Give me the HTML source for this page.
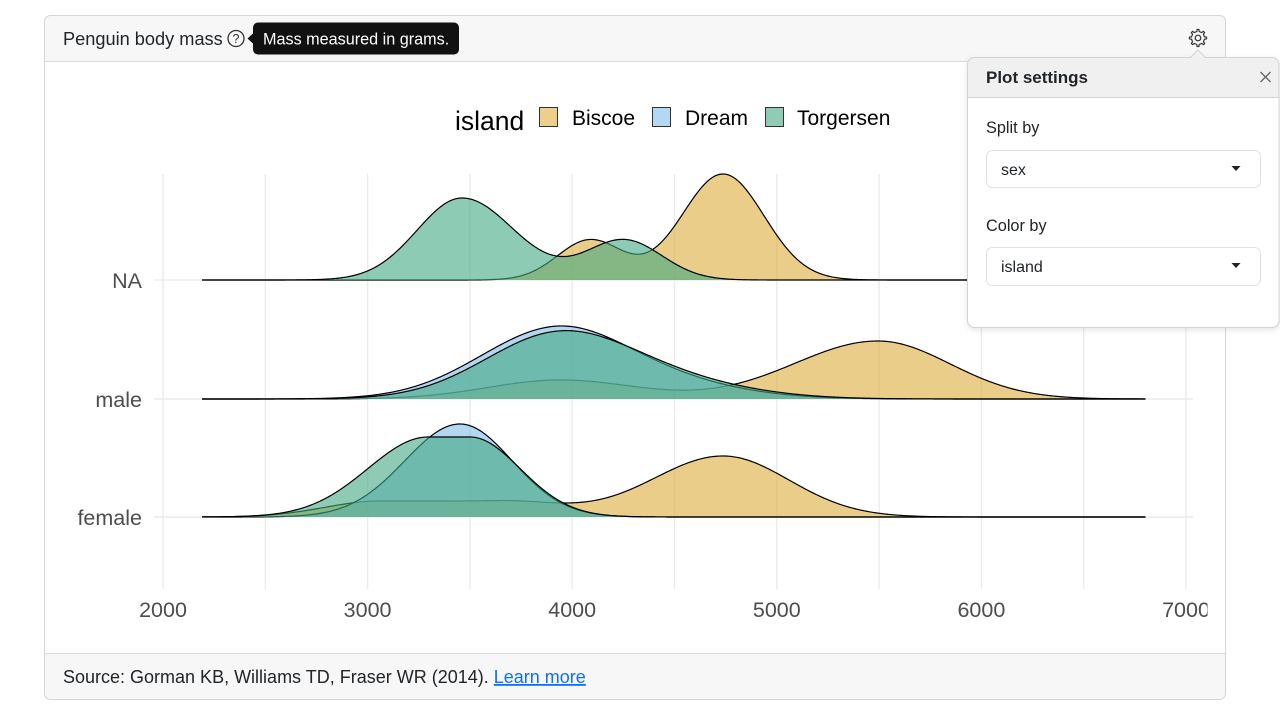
<!DOCTYPE html>
<html><head><meta charset="utf-8"><style>
html,body{margin:0;padding:0;background:#fff;}
body{width:1280px;height:720px;overflow:hidden;}
svg text{font-family:"Liberation Sans",Arial,sans-serif;}
</style></head><body>
<svg id="s" width="1280" height="720" viewBox="0 0 1280 720" xmlns="http://www.w3.org/2000/svg">
<defs>
<clipPath id="cardclip"><rect x="44.5" y="15.5" width="1181" height="684" rx="6"/></clipPath>
<clipPath id="chartclip"><rect x="45" y="62" width="1162.5" height="591"/></clipPath>
<clipPath id="panelclip"><rect x="967.5" y="57.5" width="311.5" height="270" rx="7"/></clipPath>
<filter id="sh" x="-10%" y="-10%" width="130%" height="130%"><feDropShadow dx="0" dy="2" stdDeviation="3" flood-color="#000" flood-opacity="0.10"/></filter>
</defs>

<!-- card -->
<rect x="44.5" y="15.5" width="1181" height="684" rx="6" fill="#fff"/>
<g clip-path="url(#cardclip)">
<rect x="44" y="15" width="1183" height="47" fill="#f7f7f7"/>
<rect x="44" y="653" width="1183" height="48" fill="#f7f7f7"/>
</g>
<line x1="45" y1="61.5" x2="1225" y2="61.5" stroke="#dcdcdc" stroke-width="1"/>
<line x1="45" y1="653.5" x2="1225" y2="653.5" stroke="#dcdcdc" stroke-width="1"/>
<rect x="44.5" y="15.5" width="1181" height="684" rx="6" fill="none" stroke="#d6d6d6" stroke-width="1"/>

<!-- chart -->
<g clip-path="url(#chartclip)">
<g id="grid" stroke="#ebebeb" stroke-width="1.4">
<line x1="163" y1="174" x2="163" y2="589"/>
<line x1="265.3" y1="174" x2="265.3" y2="589"/>
<line x1="367.6" y1="174" x2="367.6" y2="589"/>
<line x1="469.9" y1="174" x2="469.9" y2="589"/>
<line x1="572.2" y1="174" x2="572.2" y2="589"/>
<line x1="674.5" y1="174" x2="674.5" y2="589"/>
<line x1="776.8" y1="174" x2="776.8" y2="589"/>
<line x1="879.1" y1="174" x2="879.1" y2="589"/>
<line x1="981.4" y1="174" x2="981.4" y2="589"/>
<line x1="1083.7" y1="174" x2="1083.7" y2="589"/>
<line x1="1186" y1="174" x2="1186" y2="589"/>
<line x1="154" y1="280" x2="1193" y2="280"/>
<line x1="154" y1="399" x2="1193" y2="399"/>
<line x1="154" y1="517" x2="1193" y2="517"/>
</g>
<g id="ridges"></g>
<g fill="#4d4d4d" font-size="21.5">
<text x="163" y="617" text-anchor="middle">2000</text>
<text x="367.6" y="617" text-anchor="middle">3000</text>
<text x="572.2" y="617" text-anchor="middle">4000</text>
<text x="776.8" y="617" text-anchor="middle">5000</text>
<text x="981.4" y="617" text-anchor="middle">6000</text>
<text x="1186" y="617" text-anchor="middle">7000</text>
<text x="142" y="288" text-anchor="end">NA</text>
<text x="142" y="407" text-anchor="end">male</text>
<text x="142" y="525" text-anchor="end">female</text>
</g>
<!-- legend -->
<text x="455" y="130" font-size="26.5" fill="#000">island</text>
<rect x="539.5" y="107.5" width="18" height="19" fill="#ebcf8a" stroke="#333" stroke-width="1"/>
<text x="572" y="125" font-size="21" fill="#000">Biscoe</text>
<rect x="652.5" y="107.5" width="18" height="19" fill="#b4d8f1" stroke="#333" stroke-width="1"/>
<text x="685" y="125" font-size="21" fill="#000">Dream</text>
<rect x="765.5" y="107.5" width="18" height="19" fill="#90cbb5" stroke="#333" stroke-width="1"/>
<text x="797" y="125" font-size="21" fill="#000">Torgersen</text>
</g>

<!-- header -->
<text x="63" y="45" font-size="18.2" fill="#212529">Penguin body mass</text>
<circle cx="236" cy="38.5" r="8" fill="none" stroke="#333" stroke-width="1.3"/>
<text x="236" y="43" font-size="12.5" fill="#333" text-anchor="middle">?</text>
<path d="M247.5,38.5 L253.5,33 L253.5,44 Z" fill="#111"/>
<rect x="253" y="22.5" width="206" height="32" rx="5" fill="#111"/>
<text x="263" y="44.5" font-size="16.2" fill="#fff">Mass measured in grams.</text>
<g id="gear" transform="translate(1198,38)"></g>

<!-- footer -->
<text x="63" y="683" font-size="18" fill="#212529">Source: Gorman KB, Williams TD, Fraser WR (2014). <tspan fill="#0d6efd" text-decoration="underline">Learn more</tspan></text>

<!-- panel -->
<g filter="url(#sh)">
<rect x="967.5" y="57.5" width="311.5" height="270" rx="7" fill="#fff" stroke="#d4d4d4" stroke-width="1"/>
</g>
<g clip-path="url(#panelclip)">
<rect x="967" y="57" width="313" height="40" fill="#f0f0f0"/>
</g>
<rect x="967.5" y="57.5" width="311.5" height="270" rx="7" fill="none" stroke="#d4d4d4" stroke-width="1"/>
<line x1="968" y1="97.5" x2="1279" y2="97.5" stroke="#d4d4d4" stroke-width="1"/>
<path d="M1190,58 L1198,50 L1206,58" fill="#f0f0f0" stroke="#d4d4d4" stroke-width="1"/>
<line x1="1191" y1="58" x2="1205" y2="58" stroke="#f0f0f0" stroke-width="1.2"/>
<text x="986" y="83" font-size="17" font-weight="bold" fill="#212529">Plot settings</text>
<g stroke="#666" stroke-width="1.3"><line x1="1260.5" y1="72" x2="1270.5" y2="82"/><line x1="1270.5" y1="72" x2="1260.5" y2="82"/></g>
<text x="986" y="133" font-size="16.3" fill="#212529">Split by</text>
<rect x="986.5" y="150.5" width="274" height="37" rx="6" fill="#fff" stroke="#dee2e6" stroke-width="1"/>
<text x="1001" y="175" font-size="16" fill="#212529">sex</text>
<path d="M1231.5,166 L1240.5,166 L1236,171 Z" fill="#222"/>
<text x="986" y="231" font-size="16.3" fill="#212529">Color by</text>
<rect x="986.5" y="247.5" width="274" height="38" rx="6" fill="#fff" stroke="#dee2e6" stroke-width="1"/>
<text x="1001" y="272" font-size="16" fill="#212529">island</text>
<path d="M1231.5,263 L1240.5,263 L1236,268 Z" fill="#222"/>
</svg>
<script>
(function(){
var NS="http://www.w3.org/2000/svg";
function g(x,m,h,sl,sr){var d=x-m,s=d<0?sl:sr;return h*Math.exp(-d*d/(2*s*s));}
function fl(x,a,b,h,sl,sr){var d;if(x<a){d=a-x;return h*Math.exp(-d*d/(2*sl*sl));}if(x>b){d=x-b;return h*Math.exp(-d*d/(2*sr*sr));}return h;}
var B="#dcac39",D="#7fbce8",T="#41a882";
var rows=[
 {y:280,c:[
  {col:B,f:function(x){return g(x,590,40,32.5,32.5)+g(x,723,106,41,41);}},
  {col:T,f:function(x){return g(x,462,82,45,52)+g(x,624,40,38,38);}}]},
 {y:399,c:[
  {col:B,f:function(x){return g(x,560,19,72,75)+g(x,878,58,84,72);}},
  {col:D,f:function(x){return g(x,551,64,75,70)+g(x,650,18,80,80);}},
  {col:T,f:function(x){return g(x,553,57,72,72)+g(x,650,20,85,85);}}]},
 {y:517,c:[
  {col:B,f:function(x){return fl(x,380,500,16,55,60)+g(x,723,61,71,66);}},
  {col:D,f:function(x){return g(x,460,93,55,52);}},
  {col:T,f:function(x){return fl(x,428,470,80,60,50);}}]}
];
var root=document.getElementById("ridges");
rows.forEach(function(r){
 r.c.forEach(function(cv){
  var pts=[];
  for(var x=202;x<=1146;x+=1.5){pts.push(x.toFixed(1)+","+(r.y-cv.f(x)).toFixed(2));}
  var fp=document.createElementNS(NS,"path");
  fp.setAttribute("d","M202,"+r.y+" L"+pts.join(" L")+" L1146,"+r.y+" Z");
  fp.setAttribute("fill",cv.col);fp.setAttribute("fill-opacity","0.6");
  root.appendChild(fp);
  var sp=document.createElementNS(NS,"path");
  sp.setAttribute("d","M"+pts.join(" L"));
  sp.setAttribute("fill","none");sp.setAttribute("stroke","#000");sp.setAttribute("stroke-width","1.2");
  root.appendChild(sp);
 });
});
// gear
var gear=document.getElementById("gear");
var n=8,ro=8.6,ri=6.6,d="";
for(var i=0;i<n;i++){
 var a0=(i/n)*2*Math.PI, w=2*Math.PI/n;
 var angs=[a0-w*0.22,a0-w*0.14,a0+w*0.14,a0+w*0.22];
 var rs=[ri,ro,ro,ri];
 for(var k=0;k<4;k++){var px=(rs[k]*Math.cos(angs[k])).toFixed(2),py=(rs[k]*Math.sin(angs[k])).toFixed(2);d+=(i==0&&k==0?"M":"L")+px+","+py+" ";}
}
d+="Z";
var gp=document.createElementNS(NS,"path");gp.setAttribute("d",d);gp.setAttribute("fill","none");gp.setAttribute("stroke","#333");gp.setAttribute("stroke-width","1.2");gp.setAttribute("stroke-linejoin","round");gear.appendChild(gp);
var gc=document.createElementNS(NS,"circle");gc.setAttribute("r","2.8");gc.setAttribute("fill","none");gc.setAttribute("stroke","#333");gc.setAttribute("stroke-width","1.2");gear.appendChild(gc);
})();
</script>
</body></html>
